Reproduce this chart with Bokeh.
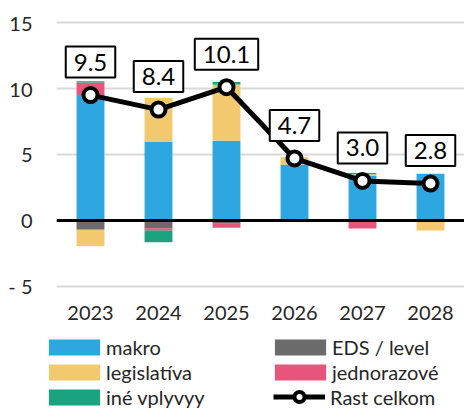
import numpy as np
from bokeh.plotting import figure
from bokeh.layouts import column
from bokeh.models import (ColumnDataSource, FactorRange, Range1d, FixedTicker,
                          Span, Label, Legend, LegendItem)
from bokeh.embed import file_html
from bokeh.resources import INLINE

# ---- data ----
years = ["2023", "2024", "2025", "2026", "2027", "2028"]
makro = [9.5, 5.95, 6.05, 4.2, 3.4, 3.55]
eds_level = [-0.7, -0.58, -0.25, 0.0, 0.0, 0.0]
legislativa = [-1.25, 3.35, 4.25, 0.6, 0.1, -0.76]
jednorazove = [0.95, -0.18, -0.3, 0.0, -0.6, 0.0]
ine_vplyvy = [0.1, -0.89, 0.2, -0.1, 0.1, 0.0]
rast_celkom = [9.5, 8.4, 10.1, 4.7, 3.0, 2.8]
y_ticks = [-5, 0, 5, 10, 15]

BLUE = "#2ea7e0"
GREY = "#6b6b6b"
YELLOW = "#f2c96e"
PINK = "#e8557a"
GREEN = "#1ba27f"
TXT = "#262626"
FONT = "Lato"

series = [
    ("makro", makro, BLUE),
    ("EDS / level", eds_level, GREY),
    ("legislatíva", legislativa, YELLOW),
    ("jednorazové", jednorazove, PINK),
    ("iné vplyvyy", ine_vplyvy, GREEN),
]

# stacked table: positive and negative parts stack separately
stack_src = {}
pos = np.zeros(len(years))
neg = np.zeros(len(years))
for name, vals, col in series:
    v = np.array(vals, dtype=float)
    bottom = np.where(v >= 0, pos, neg)
    top = bottom + v
    pos = np.where(v >= 0, top, pos)
    neg = np.where(v < 0, top, neg)
    stack_src[name] = ColumnDataSource(dict(x=years, bottom=bottom, top=top))
lsrc = ColumnDataSource(dict(x=years, y=rast_celkom))

HAS_ALIGN = "frame_align" in figure().properties()


def no_align(fig):
    if HAS_ALIGN:
        fig.frame_align = False


def draw(fig):
    rend = {}
    for name, vals, col in series:
        rend[name] = fig.vbar(x="x", bottom="bottom", top="top", width=0.41,
                              source=stack_src[name], fill_color=col, line_color=None)
    rend["line"] = fig.line("x", "y", source=lsrc, line_color="black", line_width=5)
    rend["dots"] = fig.scatter("x", "y", source=lsrc, size=14, fill_color="white",
                               line_color="black", line_width=4)
    return rend


# ---------------- top rule ----------------
rule = figure(width=464, height=3, output_backend="svg", toolbar_location=None,
              x_axis_location=None, y_axis_location=None,
              min_border_left=0, min_border_right=0, min_border_top=0,
              min_border_bottom=0)
rule.outline_line_color = None
rule.grid.grid_line_color = None
rule.background_fill_color = "black"
rule.border_fill_color = "black"
no_align(rule)

# ---------------- main chart ----------------
p = figure(width=464, height=327, x_range=FactorRange(*years, range_padding=0),
           y_range=Range1d(-6.061, 16.364),
           output_backend="svg", toolbar_location=None,
           min_border_left=56, min_border_right=0, min_border_top=1,
           min_border_bottom=30)
p.outline_line_color = None
p.background_fill_color = "white"
p.border_fill_color = "white"
no_align(p)

p.xgrid.grid_line_color = None
p.ygrid.grid_line_color = "#d9d9d9"
p.ygrid.grid_line_width = 2

draw(p)
p.add_layout(Span(location=0, dimension="width", line_color="black", line_width=3))

# value boxes (factor i sits at i + 0.5 on a FactorRange without padding)
for i, val in enumerate(rast_celkom):
    p.add_layout(Label(x=i + 0.5, y=val, y_offset=33, text=f"{val:.1f}",
                       text_align="center", text_baseline="middle",
                       text_font=FONT, text_font_size="24px", text_color="black",
                       background_fill_color="white", border_line_color="black",
                       border_line_width=2, padding=(8, 7)))

p.xaxis.axis_line_color = None
p.xaxis.major_tick_line_color = None
p.xaxis.minor_tick_line_color = None
p.xaxis.major_tick_out = 0
p.xaxis.major_tick_in = 0
p.xaxis.major_label_standoff = 5
p.xaxis.major_label_text_font = FONT
p.xaxis.major_label_text_font_size = "20px"
p.xaxis.major_label_text_color = TXT

p.yaxis.ticker = FixedTicker(ticks=y_ticks)
p.yaxis.major_label_overrides = {-5: "- 5"}
p.yaxis.axis_line_color = None
p.yaxis.major_tick_line_color = None
p.yaxis.minor_tick_line_color = None
p.yaxis.major_tick_out = 0
p.yaxis.major_tick_in = 0
p.yaxis.major_label_standoff = 24
p.yaxis.major_label_text_font = FONT
p.yaxis.major_label_text_font_size = "20px"
p.yaxis.major_label_text_color = TXT

# ---------------- legend strip ----------------
# same glyphs, but the y range lies far above the data so only the legend shows
lp = figure(width=464, height=79, x_range=FactorRange(*years, range_padding=0),
            y_range=Range1d(100, 101), output_backend="svg", toolbar_location=None,
            x_axis_location=None, y_axis_location=None,
            min_border_left=0, min_border_right=0, min_border_top=0,
            min_border_bottom=0)
lp.outline_line_color = None
lp.grid.grid_line_color = None
lp.background_fill_color = "white"
lp.border_fill_color = "white"
no_align(lp)
lr = draw(lp)

XS = 0 if HAS_ALIGN else -56   # legend x is measured from the strip's frame


def mk_legend(items, loc, gw, gh, standoff):
    lg = Legend(items=items, location=(loc[0] + XS, loc[1]), orientation="vertical",
                glyph_width=gw, glyph_height=gh, label_standoff=standoff,
                label_text_font=FONT, label_text_font_size="20px",
                label_text_color=TXT, label_height=25, spacing=0,
                padding=0, margin=0, border_line_color=None,
                background_fill_alpha=0)
    lp.add_layout(lg, "center")


mk_legend([LegendItem(label="makro", renderers=[lr["makro"]]),
           LegendItem(label="legislatíva", renderers=[lr["legislatíva"]]),
           LegendItem(label="iné vplyvyy", renderers=[lr["iné vplyvyy"]])],
          (42, 0), 64, 20, 0)
mk_legend([LegendItem(label="EDS / level", renderers=[lr["EDS / level"]]),
           LegendItem(label="jednorazové", renderers=[lr["jednorazové"]])],
          (268, 25), 64, 20, 0)
mk_legend([LegendItem(label="Rast celkom", renderers=[lr["line"], lr["dots"]])],
          (273, 0), 52, 25, 5)

layout = column(rule, p, lp, spacing=0)
open("out.html", "w").write(file_html(layout, INLINE))
